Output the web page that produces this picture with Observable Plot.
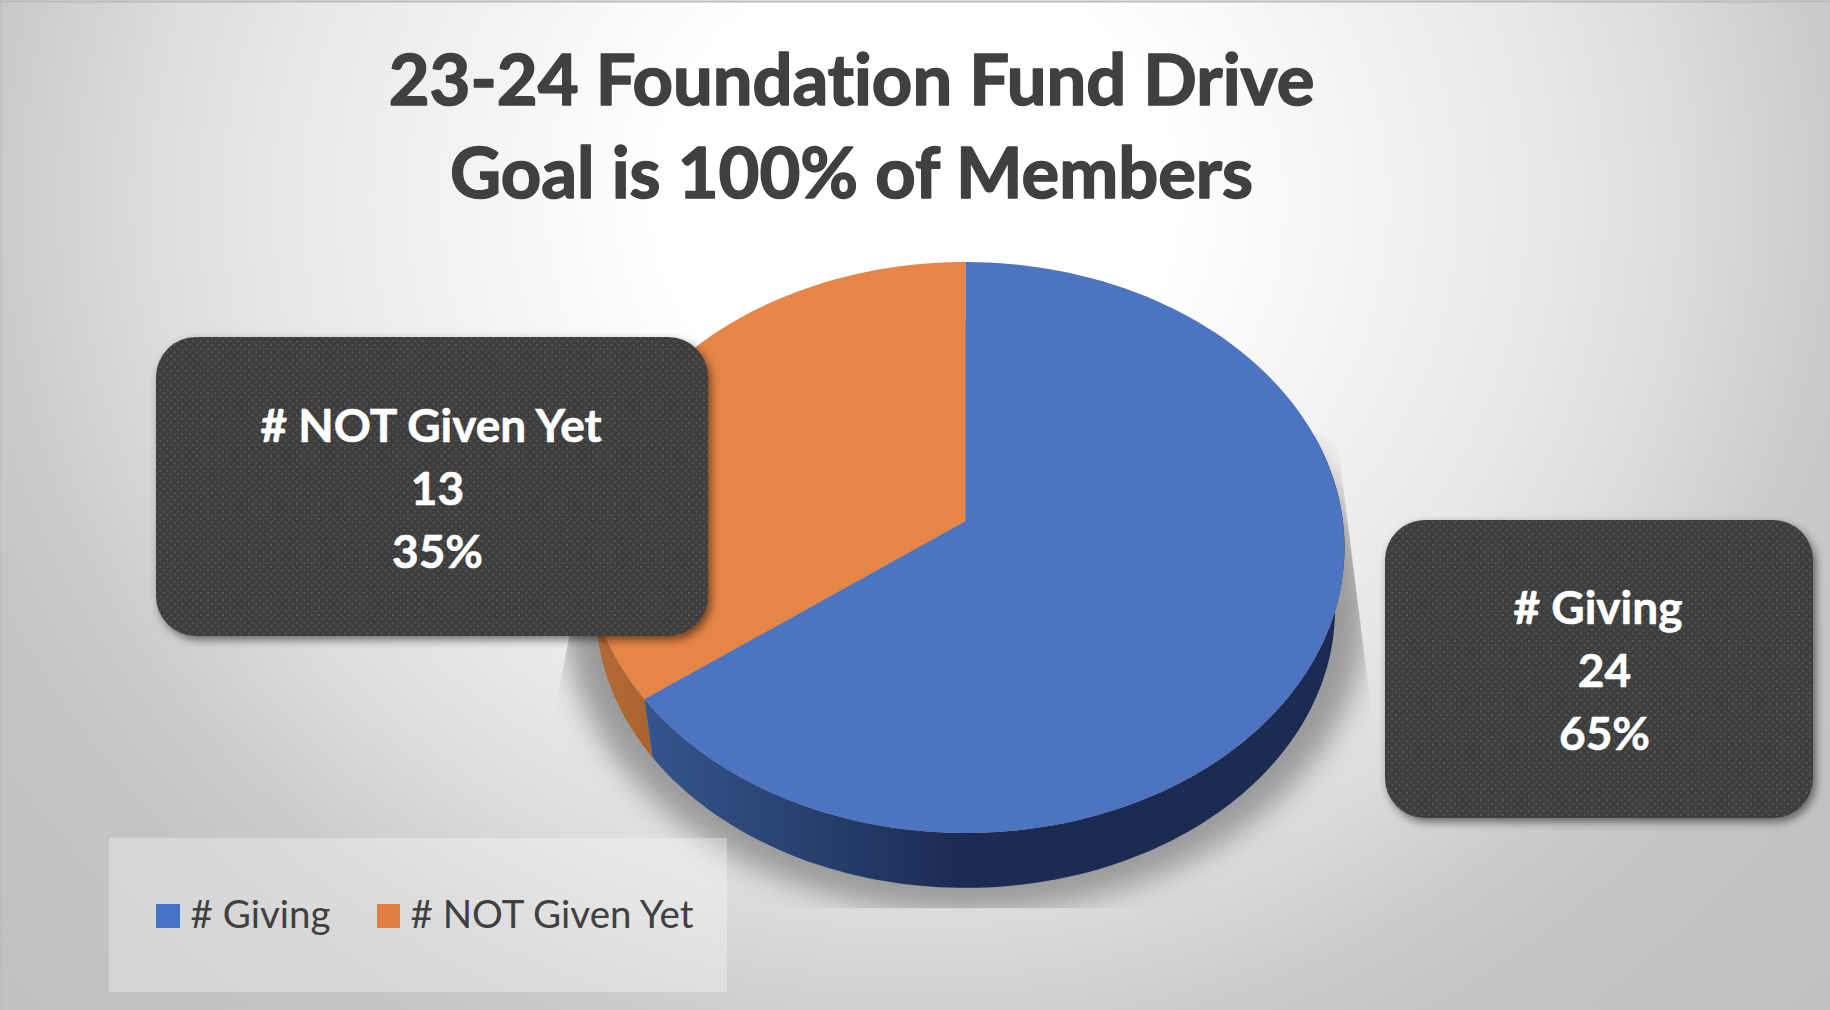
<!DOCTYPE html>
<html><head><meta charset="utf-8">
<script src="https://cdn.jsdelivr.net/npm/d3@7"></script>
<script src="https://cdn.jsdelivr.net/npm/@observablehq/plot@0.6"></script>
<style>
html,body{margin:0;padding:0;background:#fff}
svg{display:block}
svg text{font-variant-ligatures:none}
</style></head><body><div id="chart"></div>
<script>
const categories = ["# Giving", "# NOT Given Yet"];
const counts = [24, 13];
const titleLines = ["23-24 Foundation Fund Drive", "Goal is 100% of Members"];
const total = d3.sum(counts);

const W = 1830, H = 1010;
const cx = 965, cy = 547, rx = 379, ry = 285.5, tilt = -0.092, depthY = 62, depthS = 0.975;
const topColors = ["#4c74c1", "#e58546"];
const keyColors = ["#4472c4", "#e07f41"];

function project(angle, scale = 1, dy = 0) {
  const u = Math.sin(angle), v = -Math.cos(angle), w = 1 + tilt * v;
  return {
    x: cx + scale * rx * u * Math.sqrt(1 - tilt * tilt) / w,
    y: cy + dy + scale * ry * (v + tilt) / w
  };
}
function arc(a0, a1, scale, dy) {
  return d3.range(0, 121).map(i => project(a0 + (a1 - a0) * i / 120, scale, dy));
}
const split = 2 * Math.PI * counts[0] / total;
const apex = {x: cx, y: cy + ry * tilt};
const blueTop = [apex, ...arc(0, split, 1, 0)];
const orangeTop = [apex, ...arc(split, 2 * Math.PI, 1, 0)];
const blueSide = [...arc(Math.PI * 0.4, split, 1, 0), ...arc(Math.PI * 0.4, split, depthS, depthY).reverse()];
const orangeSide = [...arc(split, Math.PI * 1.7, 1, 0), ...arc(split, Math.PI * 1.7, depthS, depthY).reverse()];
const shadowShape = arc(0, 2 * Math.PI, 1.06, 62);

const defs = () => {
  const d = d3.create("svg:defs");
  const p = d.append("pattern").attr("id", "dots").attr("patternUnits", "userSpaceOnUse")
    .attr("width", 7.4).attr("height", 7.4);
  p.append("rect").attr("width", 7.4).attr("height", 7.4).attr("fill", "#3e3e3e");
  p.append("rect").attr("x", 0).attr("y", 0).attr("width", 1.8).attr("height", 1.8).attr("fill", "#585858");
  p.append("rect").attr("x", 3.7).attr("y", 3.7).attr("width", 1.8).attr("height", 1.8).attr("fill", "#585858");
  const g = d.append("linearGradient").attr("id", "blueSide").attr("gradientUnits", "userSpaceOnUse")
    .attr("x1", 645).attr("x2", 965).attr("y1", 0).attr("y2", 0);
  g.append("stop").attr("offset", 0).attr("stop-color", "#34558d");
  g.append("stop").attr("offset", 1).attr("stop-color", "#1b2b52");
  const o = d.append("linearGradient").attr("id", "orangeSide").attr("gradientUnits", "userSpaceOnUse")
    .attr("x1", 595).attr("x2", 650).attr("y1", 0).attr("y2", 0);
  o.append("stop").attr("offset", 0).attr("stop-color", "#b26b34");
  o.append("stop").attr("offset", 1).attr("stop-color", "#aa6430");
  d.append("clipPath").attr("id", "shadowClip").append("polygon")
    .attr("points", "900,300 1337,440 1372,720 1372,908 555,908 555,705 572,620");
  return d.node();
};

const poly = (pts, fill, extra = {}) => Plot.line(pts, {x: "x", y: "y", fill, stroke: "none", curve: "linear", ...extra});

const boxes = [
  {label: categories[1], value: counts[1], x1: 156, x2: 708, y1: 337, y2: 636, mx: 437},
  {label: categories[0], value: counts[0], x1: 1385, x2: 1813, y1: 520, y2: 818, mx: 1604}
];
const lineStep = 63;
const boxText = boxes.flatMap(b => {
  const my = (b.y1 + b.y2) / 2 + 3;
  return [b.label, String(b.value), d3.format(".0%")(b.value / total)]
    .map((t, i) => ({t, x: b.mx - (i === 0 ? 6.5 : 0), y: my + (i - 1) * lineStep}));
});

const chart = Plot.plot({
  width: W, height: H,
  margin: 0,
  x: {domain: [0, W], range: [0, W], axis: null},
  y: {domain: [0, H], range: [0, H], axis: null},
  style: {background: "radial-gradient(ellipse 915px 850px at 915px 200px, #ffffff 0%, #ffffff 28%, #e8e8e8 69%, #dcdcdc 84%, #cbcbcb 100%, #c4c4c4 112%, #c0c0c0 140%, #bcbcbc 170%)", fontFamily: "Lato"},
  marks: [
    defs,
    poly(shadowShape, "#9a9a9a", {imageFilter: "blur(14px)"}),
    poly(orangeSide, "url(#orangeSide)"),
    poly(blueSide, "url(#blueSide)"),
    poly(orangeTop, topColors[1]),
    poly(blueTop, topColors[0]),
    Plot.ruleY([1], {stroke: "#bbbbbb", strokeWidth: 2}),
    Plot.ruleX([0.5], {stroke: "#bbbbbb", strokeWidth: 1}),
    Plot.text(titleLines, {
      x: () => 851, y: (d, i) => 81.5 + i * 93.5, text: d => d,
      fontSize: 70.5, fontWeight: 700, fill: "#404040", stroke: "#404040", strokeWidth: 1.6,
      textAnchor: "middle", lineAnchor: "middle"
    }),
    Plot.rect(boxes, {
      x1: "x1", x2: "x2", y1: "y1", y2: "y2", rx: 40, fill: "url(#dots)",
      imageFilter: "drop-shadow(3px 4px 4px rgba(0,0,0,0.5))"
    }),
    Plot.text(boxText, {
      x: "x", y: "y", text: "t", fontSize: 46, fontWeight: 700, fill: "#ffffff", stroke: "#ffffff", strokeWidth: 0.6,
      textAnchor: "middle", lineAnchor: "middle"
    }),
    Plot.rect([{}], {x1: () => 109, x2: () => 727, y1: () => 838, y2: () => 992, fill: "#ffffff", fillOpacity: 0.32}),
    Plot.rect(categories, {
      x1: (d, i) => [156, 377][i], x2: (d, i) => [180, 400][i], y1: () => 904, y2: () => 928,
      fill: (d, i) => keyColors[i]
    }),
    Plot.text(categories, {
      x: (d, i) => [190, 410][i], y: () => 915, text: d => d,
      fontSize: 38.5, fill: "#404040", textAnchor: "start", lineAnchor: "middle"
    })
  ]
});
d3.select(chart).select('g[filter^="blur"]').attr("clip-path", "url(#shadowClip)");
document.getElementById("chart").append(chart);
</script></body></html>
